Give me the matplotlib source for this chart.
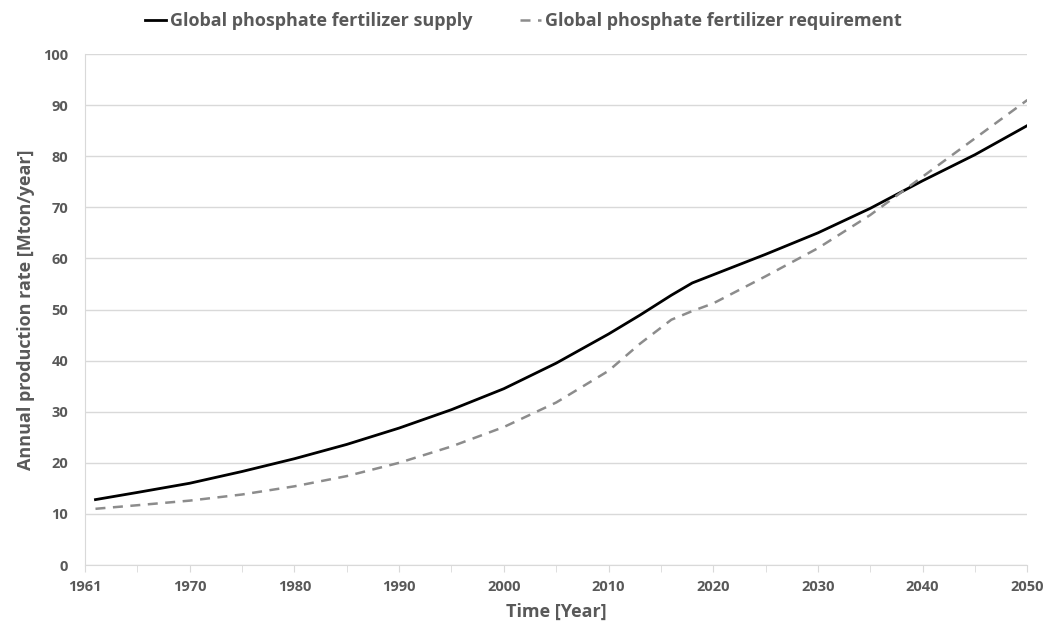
import matplotlib.pyplot as plt

# supply (solid black line)
supply_years = [1961, 1965, 1970, 1975, 1980, 1985, 1990, 1995, 2000, 2005,
                2010, 2013, 2016, 2018, 2020, 2025, 2030, 2035, 2040, 2045, 2050]
supply = [12.8, 14.2, 16.0, 18.3, 20.8, 23.6, 26.8, 30.4, 34.5, 39.5,
          45.2, 48.9, 52.8, 55.2, 56.8, 60.8, 65.0, 69.8, 75.2, 80.3, 86.0]

# requirement (dashed grey line)
req_years = [1961, 1965, 1970, 1975, 1980, 1985, 1990, 1995, 2000, 2005,
             2010, 2013, 2016, 2018, 2020, 2025, 2030, 2035, 2040, 2045, 2050]
requirement = [11.0, 11.7, 12.6, 13.8, 15.4, 17.4, 20.0, 23.2, 27.0, 31.8,
               38.0, 43.3, 48.0, 49.7, 51.2, 56.5, 62.0, 68.5, 76.0, 83.5, 91.0]

tick_pos = [1960, 1970, 1980, 1990, 2000, 2010, 2020, 2030, 2040, 2050]
tick_labels = ["1961", "1970", "1980", "1990", "2000", "2010", "2020", "2030", "2040", "2050"]

plt.rcParams['font.family'] = ['Open Sans', 'DejaVu Sans']
text_col = "#595959"
grid_col = "#d9d9d9"

fig = plt.figure(figsize=(10.43, 6.28), dpi=100)
ax = fig.add_axes([0.0815, 0.1003, 0.9035, 0.8137])

ax.plot(supply_years, supply, color="black", lw=2.0,
        label="Global phosphate fertilizer supply")
ax.plot(req_years, requirement, color="#8c8c8c", lw=1.8, ls=(0, (4, 3)),
        label="Global phosphate fertilizer requirement")

ax.set_xlim(1960, 2050)
ax.set_ylim(0, 100)
ax.set_yticks(range(0, 101, 10))
ax.set_xticks(tick_pos)
ax.set_xticklabels(tick_labels)
ax.set_xticks(range(1960, 2051, 5), minor=True)

ax.grid(axis="y", color=grid_col, lw=1)
ax.set_axisbelow(True)
for side in ["top", "right"]:
    ax.spines[side].set_visible(False)
for side in ["left", "bottom"]:
    ax.spines[side].set_color(grid_col)

ax.tick_params(axis="y", length=0, pad=12, labelsize=10.5, labelcolor=text_col)
ax.tick_params(axis="x", which="both", length=5, color=grid_col, pad=6,
               labelsize=10.5, labelcolor=text_col)
for lbl in ax.get_xticklabels() + ax.get_yticklabels():
    lbl.set_fontweight("bold")

ax.set_xlabel("Time [Year]", fontsize=13, fontweight="bold", color=text_col, labelpad=6)
ax.set_ylabel("Annual production rate [Mton/year]", fontsize=13, fontweight="bold",
              color=text_col, labelpad=6)

leg = ax.legend(loc="lower center", bbox_to_anchor=(0.465, 1.015), ncol=2, frameon=False,
                fontsize=13, handlelength=1.2, columnspacing=2.6, handletextpad=0.2)
for t in leg.get_texts():
    t.set_color(text_col)
    t.set_fontweight("bold")

fig.savefig("out.png", dpi=100)
